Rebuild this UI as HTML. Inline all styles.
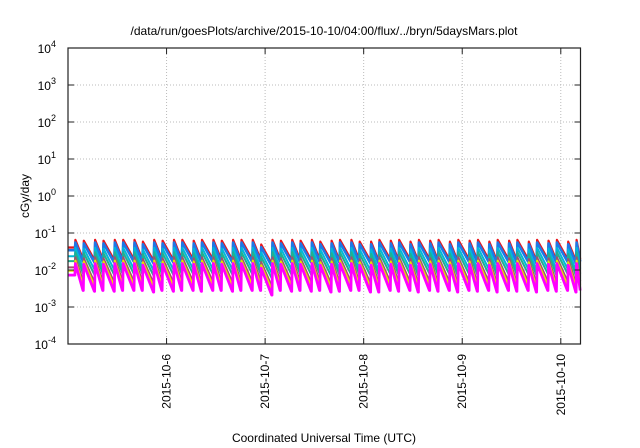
<!DOCTYPE html>
<html><head><meta charset="utf-8"><style>
body{margin:0;background:#fff}
svg{display:block;font-family:"Liberation Sans",sans-serif}
</style></head><body>
<svg id="chart" width="640" height="448" viewBox="0 0 640 448">
<text x="324" y="35" text-anchor="middle" font-size="12">/data/run/goesPlots/archive/2015-10-10/04:00/flux/../bryn/5daysMars.plot</text>
<text x="324" y="442" text-anchor="middle" font-size="12">Coordinated Universal Time (UTC)</text>
<text transform="translate(29,196) rotate(-90)" text-anchor="middle" font-size="12">cGy/day</text>
<g id="grid"></g>
<g id="series"></g>
<rect x="68" y="48" width="512.5" height="296" fill="none" stroke="#222" stroke-width="1.2"/>
<g id="axes"></g>
</svg>
<script>
const xTickLabels = ["2015-10-6","2015-10-7","2015-10-8","2015-10-9","2015-10-10"];
const xTickDays = [1,2,3,4,5];
const yExponents = [-4,-3,-2,-1,0,1,2,3,4];
const peakTimes = [0.07,0.155,0.27,0.355,0.47,0.555,0.67,0.755,0.87,0.955,1.07,1.155,1.27,1.355,1.47,1.555,1.67,1.755,1.87,1.955,2.07,2.155,2.27,2.355,2.47,2.555,2.67,2.755,2.87,2.955,3.07,3.155,3.27,3.355,3.47,3.555,3.67,3.755,3.87,3.955,4.07,4.155,4.27,4.355,4.47,4.555,4.67,4.755,4.87,4.955,5.07,5.155];
const peakScale = [1,0.95,1,0.95,1,1,1,0.9,1,0.95,1,1,0.95,1,1,0.95,1,1,1,0.75,1,0.95,1,0.95,1,0.9,0.95,1,1,0.9,0.9,1,0.95,1,0.9,1,0.95,1,0.9,1,0.95,1,0.9,1,0.95,1,0.9,1,0.95,1,0.9,1];
const seriesNames = ["red","blue","cyan","teal","brown","yellow","magenta"];
const seriesColors = ["#e8141c","#1e78e6","#00b8d8","#20b090","#a05070","#e8e000","#ff00ff"];
const seriesPeak = [0.065,0.055,0.04,0.03,0.022,0.018,0.015];
const seriesTrough = [0.02,0.017,0.011,0.008,0.005,0.004,0.0028];
const seriesWidth = [2.2,2.6,2,2,2,2,2.8];

const X0=68,X1=580.5,Y0=344,Y1=48,DMAX=5.2;
const NS="http://www.w3.org/2000/svg";
const xs=d=>X0+(d/DMAX)*(X1-X0);
const ys=v=>Y0-(Math.log10(v)+4)/8*(Y0-Y1);
function mk(tag,attrs,parent){const e=document.createElementNS(NS,tag);for(const k in attrs)e.setAttribute(k,attrs[k]);parent.appendChild(e);return e;}
const grid=document.getElementById('grid'),axes=document.getElementById('axes'),ser=document.getElementById('series');
yExponents.forEach(p=>{
  const y=ys(Math.pow(10,p));
  if(p>-4&&p<4){const g=mk('line',{x1:X0,x2:X1,y1:y,y2:y,stroke:'#bbb','stroke-dasharray':'1,2'},grid);
  
  }
  const t1=mk('line',{x1:X0,x2:X0+6,y1:y,y2:y,stroke:'#222'},axes);
  
  
  const t2=mk('line',{x1:X1-6,x2:X1,y1:y,y2:y,stroke:'#222'},axes);
  
  
  const tx=mk('text',{x:56,y:y+5,'text-anchor':'end','font-size':'12'},axes);
  
  
  tx.textContent='10';
  const sp=mk('tspan',{dy:'-6','font-size':'9'},tx);sp.textContent=String(p);
});
xTickDays.forEach((d,i)=>{
  const x=xs(d);
  const g=mk('line',{x1:x,x2:x,y1:Y1,y2:Y0,stroke:'#bbb','stroke-dasharray':'1,2'},grid);
  
  
  const t=mk('line',{x1:x,x2:x,y1:Y0-6,y2:Y0,stroke:'#222'},axes);
  
  
  const t2=mk('line',{x1:x,x2:x,y1:Y1,y2:Y1+6,stroke:'#222'},axes);
  
  
  const tx=mk('text',{transform:`translate(${x+4},${Y0+10}) rotate(-90)`,'text-anchor':'end','font-size':'12'},axes);
  
  
  tx.textContent=xTickLabels[i];
});
seriesNames.forEach((n,s)=>{
  let pts=[];
  const lp=Math.log10(seriesPeak[s]),lt=Math.log10(seriesTrough[s]);
  pts.push([xs(0),ys(Math.pow(10,(lp+lt)/2+0.05))]);
  for(let i=0;i<peakTimes.length;i++){
    const t=peakTimes[i];if(t>DMAX)break;
    const nx=i+1<peakTimes.length?Math.min(peakTimes[i+1],DMAX):DMAX;
    const pk=seriesPeak[s]*peakScale[i],tr=seriesTrough[s]*peakScale[i];
    pts.push([xs(t),pts[pts.length-1][1]]);
    pts.push([xs(t)+0.5,ys(pk)]);
    const end=peakTimes[i+1]>DMAX?tr*(pk/tr)**0.4:tr;
    pts.push([xs(nx)-0.3,ys(end)]);
  }
  const p=mk('polyline',{points:pts.map(q=>q[0].toFixed(1)+','+q[1].toFixed(1)).join(' '),fill:'none',stroke:seriesColors[s],'stroke-width':seriesWidth[s],'stroke-linejoin':'round'},ser);
  
  
});
</script>
</body></html>
